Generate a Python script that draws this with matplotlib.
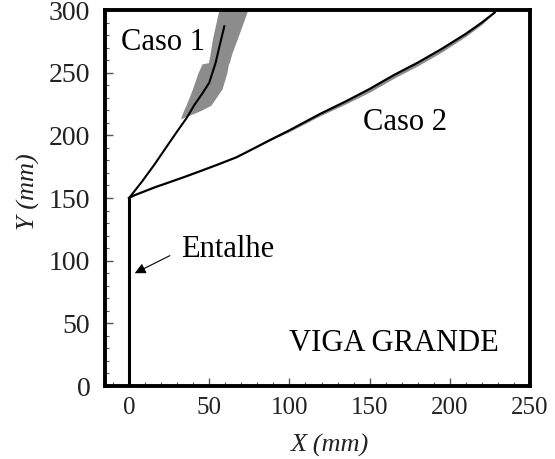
import matplotlib
matplotlib.use("Agg")
import matplotlib.pyplot as plt
from matplotlib.ticker import MultipleLocator

plt.rcParams['font.family'] = ['Liberation Serif', 'DejaVu Serif']

# Entalhe (notch)
notch_x = [0, 0]
notch_y = [0, 150]

# Caso 1 crack path
caso1_x = [0, 8, 16, 24, 31, 36, 40.6, 46, 50, 54, 56, 59.4]
caso1_y = [150, 163, 177, 192, 205, 214, 224, 234, 242, 258, 269, 287]

# Caso 1 scatter band
band1_y = [213, 220, 224, 237, 250, 257, 258, 265, 277, 300]
band1_left = [32, 34, 35.5, 39.5, 43, 45.5, 49.5, 50.5, 52, 56]
band1_right = [32, 45, 51, 58, 61, 62, 62.5, 64, 67.5, 74]

# Caso 2 crack path
caso2_x = [0, 3, 8, 16, 25, 35, 45.6, 56, 67, 77, 87.5, 100, 119, 135, 150, 165, 180, 195, 210, 220, 228]
caso2_y = [150, 152, 154.5, 158.5, 162.5, 167, 172, 177, 182.5, 189, 196, 204, 217, 227, 237, 248, 258, 269, 281, 290, 298]
caso2_band = [0, 0, 0, 0, 0, 0, 0, 0, 0, 0, 0.5, 1, 1.5, 2, 2.5, 2.5, 2.5, 2.5, 2, 1.5, 0]

fig = plt.figure(figsize=(5.55, 4.59), dpi=100)
ax = fig.add_axes([105/555, 1 - 386/459, 425/555, 376/459])

ax.fill_betweenx(band1_y, band1_left, band1_right, color='#8c8c8c', lw=0)
ax.fill_between(caso2_x, [y - b for y, b in zip(caso2_y, caso2_band)], caso2_y,
                color='#8c8c8c', lw=0)
ax.plot(caso1_x, caso1_y, color='black', lw=1.5)
ax.plot(caso2_x, caso2_y, color='black', lw=1.6)
ax.plot(notch_x, notch_y, color='black', lw=2.2, solid_capstyle='butt')

ax.set_xlim(-15, 250)
ax.set_ylim(0, 300)

ax.xaxis.set_major_locator(MultipleLocator(50))
ax.xaxis.set_minor_locator(MultipleLocator(10))
ax.yaxis.set_major_locator(MultipleLocator(50))
ax.yaxis.set_minor_locator(MultipleLocator(10))
ax.tick_params(which='both', direction='in', top=False, right=False,
               color='#555555', labelcolor='#222222')
ax.tick_params(which='major', length=6, width=1)
ax.tick_params(which='minor', length=3, width=0.8)
ax.tick_params(axis='x', pad=8, labelsize=18)
ax.tick_params(axis='y', pad=10.5, labelsize=20)

for s in ax.spines.values():
    s.set_linewidth(2.8)

ax.set_xlabel('X (mm)', fontsize=19, style='italic', color='#222222')
ax.set_ylabel('Y (mm)', fontsize=19, style='italic', color='#222222')
ax.xaxis.set_label_coords(0.529, -0.128)
ax.yaxis.set_label_coords(-0.153, 0.516)

ax.text(-5, 274, 'Caso 1', fontsize=22, va='center', ha='left')
ax.text(146, 210, 'Caso 2', fontsize=22, va='center', ha='left')
ax.text(100, 34, 'VIGA GRANDE', fontsize=22, va='center', ha='left')
ax.text(32.5, 109, 'Entalhe', fontsize=22, va='center', ha='left')
ax.annotate('', xy=(2, 89), xytext=(27, 105),
            arrowprops=dict(arrowstyle='-|>', color='black', lw=0.8, mutation_scale=16))

fig.savefig('out.png', dpi=100)
